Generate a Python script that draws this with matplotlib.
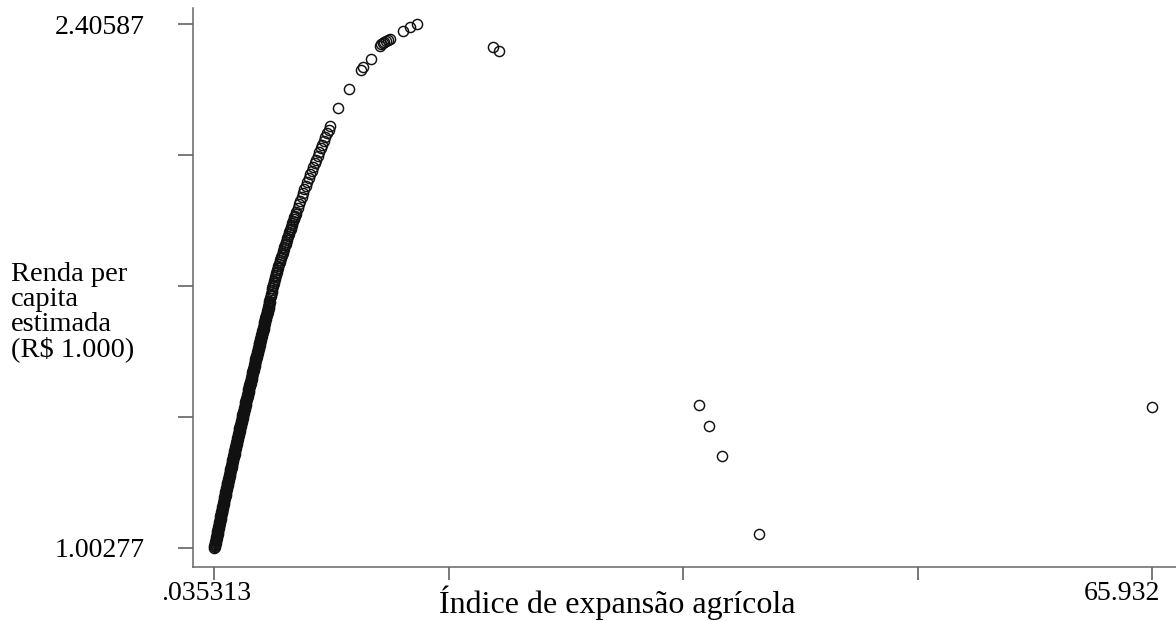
import matplotlib
matplotlib.use('Agg')
import matplotlib.pyplot as plt
import matplotlib.transforms as mtransforms

# Renda per capita estimada (R$ 1.000) x Indice de expansao agricola
# faixa densa: municipios com indice baixo
idx_denso = [0.035313, 0.062, 0.088, 0.115, 0.141, 0.168, 0.194, 0.221, 0.247, 0.274,
             0.300, 0.327, 0.353, 0.380, 0.406, 0.433, 0.459, 0.486, 0.512,
             0.540, 0.567, 0.595, 0.622, 0.650, 0.677, 0.705, 0.732, 0.760, 0.787,
             0.815, 0.842, 0.870, 0.897, 0.925, 0.952,
             0.981, 1.010, 1.038, 1.067, 1.096, 1.125, 1.154, 1.182, 1.211, 1.240,
             1.269, 1.297, 1.326, 1.355, 1.384, 1.413,
             1.442, 1.472, 1.501, 1.531, 1.560, 1.590, 1.619, 1.649, 1.678, 1.708,
             1.737, 1.767, 1.796, 1.826, 1.855, 1.885,
             1.915, 1.945, 1.975, 2.005, 2.035, 2.065, 2.095, 2.125, 2.155, 2.185,
             2.215, 2.245, 2.275, 2.305, 2.335, 2.365,
             2.396, 2.426, 2.457, 2.487, 2.518, 2.548, 2.579, 2.609, 2.640, 2.670,
             2.701, 2.731, 2.762, 2.792, 2.823, 2.853,
             2.884, 2.916, 2.947, 2.978, 3.009, 3.041, 3.072, 3.103, 3.134, 3.166,
             3.197, 3.228, 3.259, 3.291, 3.322, 3.353,
             3.385, 3.417, 3.449, 3.481, 3.513, 3.545, 3.577, 3.609, 3.641, 3.673,
             3.705, 3.737, 3.769, 3.801, 3.833, 3.865, 3.897, 3.929]
renda_denso = [1.00277, 1.008, 1.013, 1.018, 1.023, 1.028, 1.033, 1.038, 1.043, 1.048,
               1.053, 1.058, 1.063, 1.068, 1.073, 1.078, 1.083, 1.088, 1.093,
               1.098, 1.103, 1.108, 1.113, 1.118, 1.123, 1.128, 1.133, 1.138, 1.143,
               1.148, 1.153, 1.158, 1.163, 1.168, 1.173,
               1.178, 1.183, 1.188, 1.193, 1.198, 1.203, 1.208, 1.213, 1.218, 1.223,
               1.228, 1.233, 1.238, 1.243, 1.248, 1.253,
               1.258, 1.263, 1.268, 1.273, 1.278, 1.283, 1.288, 1.293, 1.298, 1.303,
               1.308, 1.313, 1.318, 1.323, 1.328, 1.333,
               1.338, 1.343, 1.348, 1.353, 1.358, 1.363, 1.368, 1.373, 1.378, 1.383,
               1.388, 1.393, 1.398, 1.403, 1.408, 1.413,
               1.418, 1.423, 1.428, 1.433, 1.438, 1.443, 1.448, 1.453, 1.458, 1.463,
               1.468, 1.473, 1.478, 1.483, 1.488, 1.493,
               1.498, 1.503, 1.508, 1.513, 1.518, 1.523, 1.528, 1.533, 1.538, 1.543,
               1.548, 1.553, 1.558, 1.563, 1.568, 1.573,
               1.578, 1.583, 1.588, 1.593, 1.598, 1.603, 1.608, 1.613, 1.618, 1.623,
               1.628, 1.633, 1.638, 1.643, 1.648, 1.653, 1.658, 1.663]

# mais municipios na mesma faixa, um pouco a direita
idx_denso2 = [0.098, 0.125, 0.152, 0.178, 0.205, 0.231, 0.258, 0.284, 0.311, 0.337,
              0.364, 0.390, 0.417, 0.443, 0.470, 0.496, 0.523, 0.549, 0.576, 0.604,
              0.631, 0.659, 0.686, 0.714, 0.741, 0.769, 0.796, 0.824, 0.851, 0.879,
              0.906, 0.934, 0.961, 0.989, 1.017, 1.046, 1.074, 1.103, 1.132, 1.161,
              1.190, 1.218, 1.247, 1.276, 1.305, 1.333, 1.362, 1.391, 1.420, 1.449,
              1.478, 1.507, 1.537, 1.566, 1.596, 1.625, 1.655, 1.684, 1.714, 1.743,
              1.773, 1.802, 1.832, 1.861, 1.891, 1.920, 1.950, 1.980, 2.010, 2.040,
              2.070, 2.100, 2.130, 2.160, 2.190, 2.220, 2.250, 2.280, 2.310, 2.340,
              2.370, 2.400, 2.431, 2.461, 2.492, 2.522, 2.553, 2.583, 2.614, 2.644,
              2.675, 2.705, 2.736, 2.766, 2.797, 2.827, 2.858, 2.888, 2.919, 2.950,
              2.982, 3.013, 3.044, 3.075, 3.107, 3.138, 3.169, 3.200, 3.232, 3.263,
              3.294, 3.325, 3.357, 3.388, 3.419, 3.451, 3.483, 3.515, 3.547, 3.579,
              3.611, 3.643, 3.675, 3.707, 3.739, 3.771, 3.803, 3.835, 3.867, 3.899,
              3.931, 3.963]
renda_denso2 = [1.0055, 1.0105, 1.0155, 1.0205, 1.0255, 1.0305, 1.0355, 1.0405, 1.0455, 1.0505,
                1.0555, 1.0605, 1.0655, 1.0705, 1.0755, 1.0805, 1.0855, 1.0905, 1.0955, 1.1005,
                1.1055, 1.1105, 1.1155, 1.1205, 1.1255, 1.1305, 1.1355, 1.1405, 1.1455, 1.1505,
                1.1555, 1.1605, 1.1655, 1.1705, 1.1755, 1.1805, 1.1855, 1.1905, 1.1955, 1.2005,
                1.2055, 1.2105, 1.2155, 1.2205, 1.2255, 1.2305, 1.2355, 1.2405, 1.2455, 1.2505,
                1.2555, 1.2605, 1.2655, 1.2705, 1.2755, 1.2805, 1.2855, 1.2905, 1.2955, 1.3005,
                1.3055, 1.3105, 1.3155, 1.3205, 1.3255, 1.3305, 1.3355, 1.3405, 1.3455, 1.3505,
                1.3555, 1.3605, 1.3655, 1.3705, 1.3755, 1.3805, 1.3855, 1.3905, 1.3955, 1.4005,
                1.4055, 1.4105, 1.4155, 1.4205, 1.4255, 1.4305, 1.4355, 1.4405, 1.4455, 1.4505,
                1.4555, 1.4605, 1.4655, 1.4705, 1.4755, 1.4805, 1.4855, 1.4905, 1.4955, 1.5005,
                1.5055, 1.5105, 1.5155, 1.5205, 1.5255, 1.5305, 1.5355, 1.5405, 1.5455, 1.5505,
                1.5555, 1.5605, 1.5655, 1.5705, 1.5755, 1.5805, 1.5855, 1.5905, 1.5955, 1.6005,
                1.6055, 1.6105, 1.6155, 1.6205, 1.6255, 1.6305, 1.6355, 1.6405, 1.6455, 1.6505,
                1.6555, 1.6605]

# trecho intermediario da curva
idx_medio = [3.97, 4.04, 4.11, 4.18, 4.25, 4.32, 4.39, 4.46, 4.53, 4.60,
             4.685, 4.77, 4.855, 4.94, 5.025, 5.11, 5.195, 5.28, 5.365, 5.45,
             5.54, 5.64, 5.73, 5.82, 5.91, 6.01, 6.10, 6.19, 6.29, 6.38,
             6.49, 6.59, 6.70, 6.80, 6.91, 7.01, 7.12, 7.22, 7.33, 7.43,
             7.54, 7.65, 7.76, 7.86, 7.97, 8.08, 8.19]
renda_medio = [1.673, 1.683, 1.693, 1.703, 1.713, 1.723, 1.733, 1.743, 1.753, 1.763,
               1.773, 1.783, 1.793, 1.803, 1.813, 1.823, 1.833, 1.843, 1.853, 1.863,
               1.873, 1.883, 1.893, 1.903, 1.913, 1.923, 1.933, 1.943, 1.953, 1.963,
               1.973, 1.983, 1.993, 2.003, 2.013, 2.023, 2.033, 2.043, 2.053, 2.063,
               2.073, 2.083, 2.093, 2.103, 2.113, 2.123, 2.133]
idx_medio2 = [4.005, 4.075, 4.145, 4.215, 4.285, 4.355, 4.425, 4.495, 4.565, 4.64,
              4.73, 4.81, 4.90, 4.98, 5.07, 5.15, 5.24, 5.32, 5.41, 5.50,
              5.59, 5.69, 5.78]
renda_medio2 = [1.678, 1.688, 1.698, 1.708, 1.718, 1.728, 1.738, 1.748, 1.758, 1.768,
                1.778, 1.788, 1.798, 1.808, 1.818, 1.828, 1.838, 1.848, 1.858, 1.868,
                1.878, 1.888, 1.898]

# topo da curva
idx_topo = [8.75, 9.52, 10.36, 10.50, 11.06, 11.70, 11.80, 11.91, 12.00, 12.12,
            12.25, 12.40, 13.31, 13.80, 14.30]
renda_topo = [2.181, 2.232, 2.283, 2.291, 2.312, 2.347, 2.351, 2.355, 2.357, 2.360,
              2.363, 2.366, 2.387, 2.398, 2.40587]

# pontos fora da curva
idx_fora = [19.64, 20.06, 34.11, 34.81, 35.72, 38.32, 65.932]
renda_fora = [2.344, 2.334, 1.386, 1.329, 1.249, 1.040, 1.380]

x_ticks = [0.035313, 16.509485, 32.983657, 49.457828, 65.932]
x_labels = ['.035313', '', '', '', '65.932']
y_ticks = [1.00277, 1.353545, 1.70432, 2.055095, 2.40587]
y_labels = ['1.00277', '', '', '', '2.40587']

plt.rcParams['font.family'] = ['Liberation Serif', 'DejaVu Serif']

fig = plt.figure(figsize=(11.76, 6.21), dpi=100)
ax = fig.add_axes([193 / 1176, 54 / 621, 983 / 1176, 559 / 621])

x = idx_denso + idx_denso2 + idx_medio + idx_medio2 + idx_topo + idx_fora
y = renda_denso + renda_denso2 + renda_medio + renda_medio2 + renda_topo + renda_fora
ax.plot(x, y, linestyle='none', marker='o', markersize=7.3,
        markerfacecolor='none', markeredgecolor='#111111', markeredgewidth=1.05)

ax.set_xlim(-1.4400, 67.6176)
ax.set_ylim(0.95189, 2.44873)

for lado in ['top', 'right']:
    ax.spines[lado].set_visible(False)
for lado in ['left', 'bottom']:
    ax.spines[lado].set_color('#666666')
    ax.spines[lado].set_linewidth(1.1)

ax.set_xticks(x_ticks)
ax.set_xticklabels(x_labels)
ax.set_yticks(y_ticks)
ax.set_yticklabels(y_labels)
ax.tick_params(axis='x', length=9, width=1.1, color='#555555', pad=1, labelsize=20)
ax.tick_params(axis='y', length=10.5, width=1.1, color='#555555', pad=24, labelsize=20)

# rotulos das pontas do eixo x deslocados como no original
rotulos_x = ax.get_xticklabels()
rotulos_x[0].set_transform(rotulos_x[0].get_transform()
                           + mtransforms.ScaledTranslation(-0.08, 0, fig.dpi_scale_trans))
rotulos_x[-1].set_horizontalalignment('right')
rotulos_x[-1].set_transform(rotulos_x[-1].get_transform()
                            + mtransforms.ScaledTranslation(0.08, 0, fig.dpi_scale_trans))

fig.text(11 / 1176, 1 - 312 / 621, 'Renda per\ncapita\nestimada\n(R$ 1.000)',
         ha='left', va='center', fontsize=20.5, linespacing=1.0)
fig.text(617 / 1176, (621 - 613) / 621, 'Índice de expansão agrícola',
         ha='center', va='baseline', fontsize=23)

fig.savefig('out.png', dpi=100)
